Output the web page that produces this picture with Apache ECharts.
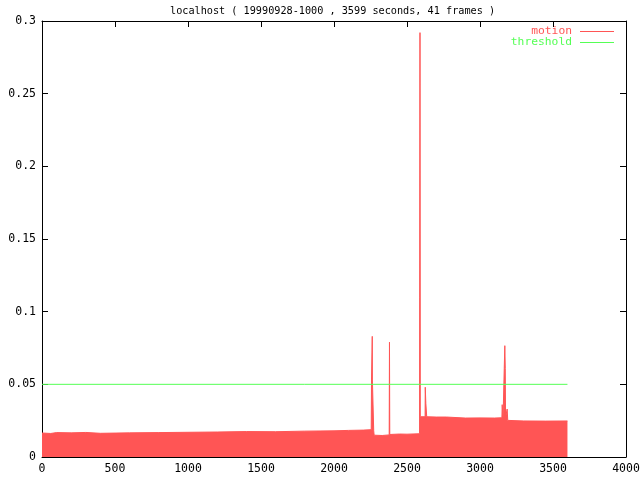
<!DOCTYPE html>
<html>
<head>
<meta charset="utf-8">
<script src="https://cdn.jsdelivr.net/npm/echarts@6/dist/echarts.min.js"></script>
<style>html,body{margin:0;padding:0;background:#fff}#c{width:640px;height:480px}</style>
</head>
<body>
<div id="c"></div>
<script>
var titleText = 'localhost ( 19990928-1000 , 3599 seconds, 41 frames )';
var xTicks = [0, 500, 1000, 1500, 2000, 2500, 3000, 3500, 4000];
var yTicks = [0, 0.05, 0.1, 0.15, 0.2, 0.25, 0.3];
// motion: [second, value] breakpoints
var motionData = [
  [0,0.0165],[60,0.0162],[100,0.0168],[200,0.0166],[300,0.0169],[400,0.0163],[600,0.0166],
  [800,0.0168],[1000,0.017],[1200,0.0172],[1400,0.0175],[1600,0.0174],[1800,0.0178],
  [2000,0.0180],[2100,0.0183],[2200,0.0185],[2255,0.0188],[2257,0.053],[2261,0.053],
  [2262,0.083],[2263,0.053],[2270,0.052],[2272,0.018],[2275,0.015],[2330,0.0148],
  [2378,0.0152],[2380,0.079],[2382,0.0155],[2450,0.0158],[2500,0.0157],[2586,0.0160],
  [2587,0.11],[2588,0.11],[2589,0.292],[2590,0.292],[2591,0.0277],[2624,0.0277],
  [2625,0.048],[2627,0.048],[2629,0.037],[2633,0.037],[2635,0.0277],[2700,0.0275],
  [2770,0.0275],[2780,0.0267],[2900,0.0268],[3000,0.0269],[3100,0.0268],[3150,0.027],
  [3152,0.036],[3156,0.036],[3158,0.027],[3165,0.027],[3166,0.061],[3169,0.061],
  [3170,0.0766],[3172,0.0766],[3173,0.061],[3175,0.027],[3185,0.027],[3186,0.033],
  [3189,0.033],[3190,0.0252],[3300,0.0248],[3450,0.0247],[3599,0.0248]
];
var thresholdData = [[0,0.05],[3599,0.05]];

var RED = '#ff5555', GREEN = '#55ff55';
var FONT = 'DejaVu Sans Mono';
var chart = echarts.init(document.getElementById('c'));
function axisCommon() {
  return {
    axisLine: {show: true, onZero: false, lineStyle: {color: '#000', width: 1}},
    axisTick: {show: true, inside: true, length: 6, lineStyle: {color: '#000'}},
    splitLine: {show: false}
  };
}
function plain(v) { return String(v); }
var xMin = xTicks[0], xMax = xTicks[xTicks.length-1], xInt = xTicks[1]-xTicks[0];
var yMin = yTicks[0], yMax = yTicks[yTicks.length-1], yInt = yTicks[1]-yTicks[0];
chart.setOption({
  animation: false,
  backgroundColor: '#fff',
  title: {text: titleText, left: 165, top: 1,
    textStyle: {fontFamily: FONT, fontSize: 10.2, fontWeight: 'normal', color: '#000'}},
  legend: {
    orient: 'vertical', right: 21, top: 21, align: 'right',
    icon: 'rect', itemWidth: 34, itemHeight: 1, itemGap: 0,
    textStyle: {fontFamily: FONT, fontSize: 11.3, lineHeight: 11, padding: [0, 3, 0, 0]},
    data: [
      {name: 'motion', textStyle: {color: RED}},
      {name: 'threshold', textStyle: {color: GREEN}}
    ]
  },
  grid: {left: 42, right: 14, top: 21, bottom: 23, containLabel: false, outerBoundsMode: 'none'},
  xAxis: [
    Object.assign(axisCommon(), {type: 'value', position: 'bottom', min: xMin, max: xMax, interval: xInt,
      axisLabel: {fontFamily: FONT, fontSize: 11.5, color: '#000', margin: 6, formatter: plain}}),
    Object.assign(axisCommon(), {type: 'value', position: 'top', min: xMin, max: xMax, interval: xInt,
      axisLabel: {show: false}})
  ],
  yAxis: [
    Object.assign(axisCommon(), {type: 'value', position: 'left', min: yMin, max: yMax, interval: yInt,
      axisLabel: {fontFamily: FONT, fontSize: 11.5, color: '#000', margin: 6, formatter: plain}}),
    Object.assign(axisCommon(), {type: 'value', position: 'right', min: yMin, max: yMax, interval: yInt,
      axisLabel: {show: false}})
  ],
  series: [
    {name: 'motion', type: 'line', data: motionData, showSymbol: false, symbol: 'none',
      color: RED, lineStyle: {color: RED, width: 1}, areaStyle: {color: RED, opacity: 1}, z: 2},
    {name: 'threshold', type: 'line', data: thresholdData, showSymbol: false, symbol: 'none',
      color: GREEN, lineStyle: {color: GREEN, width: 1}, z: 3}
  ]
});
</script>
</body>
</html>
